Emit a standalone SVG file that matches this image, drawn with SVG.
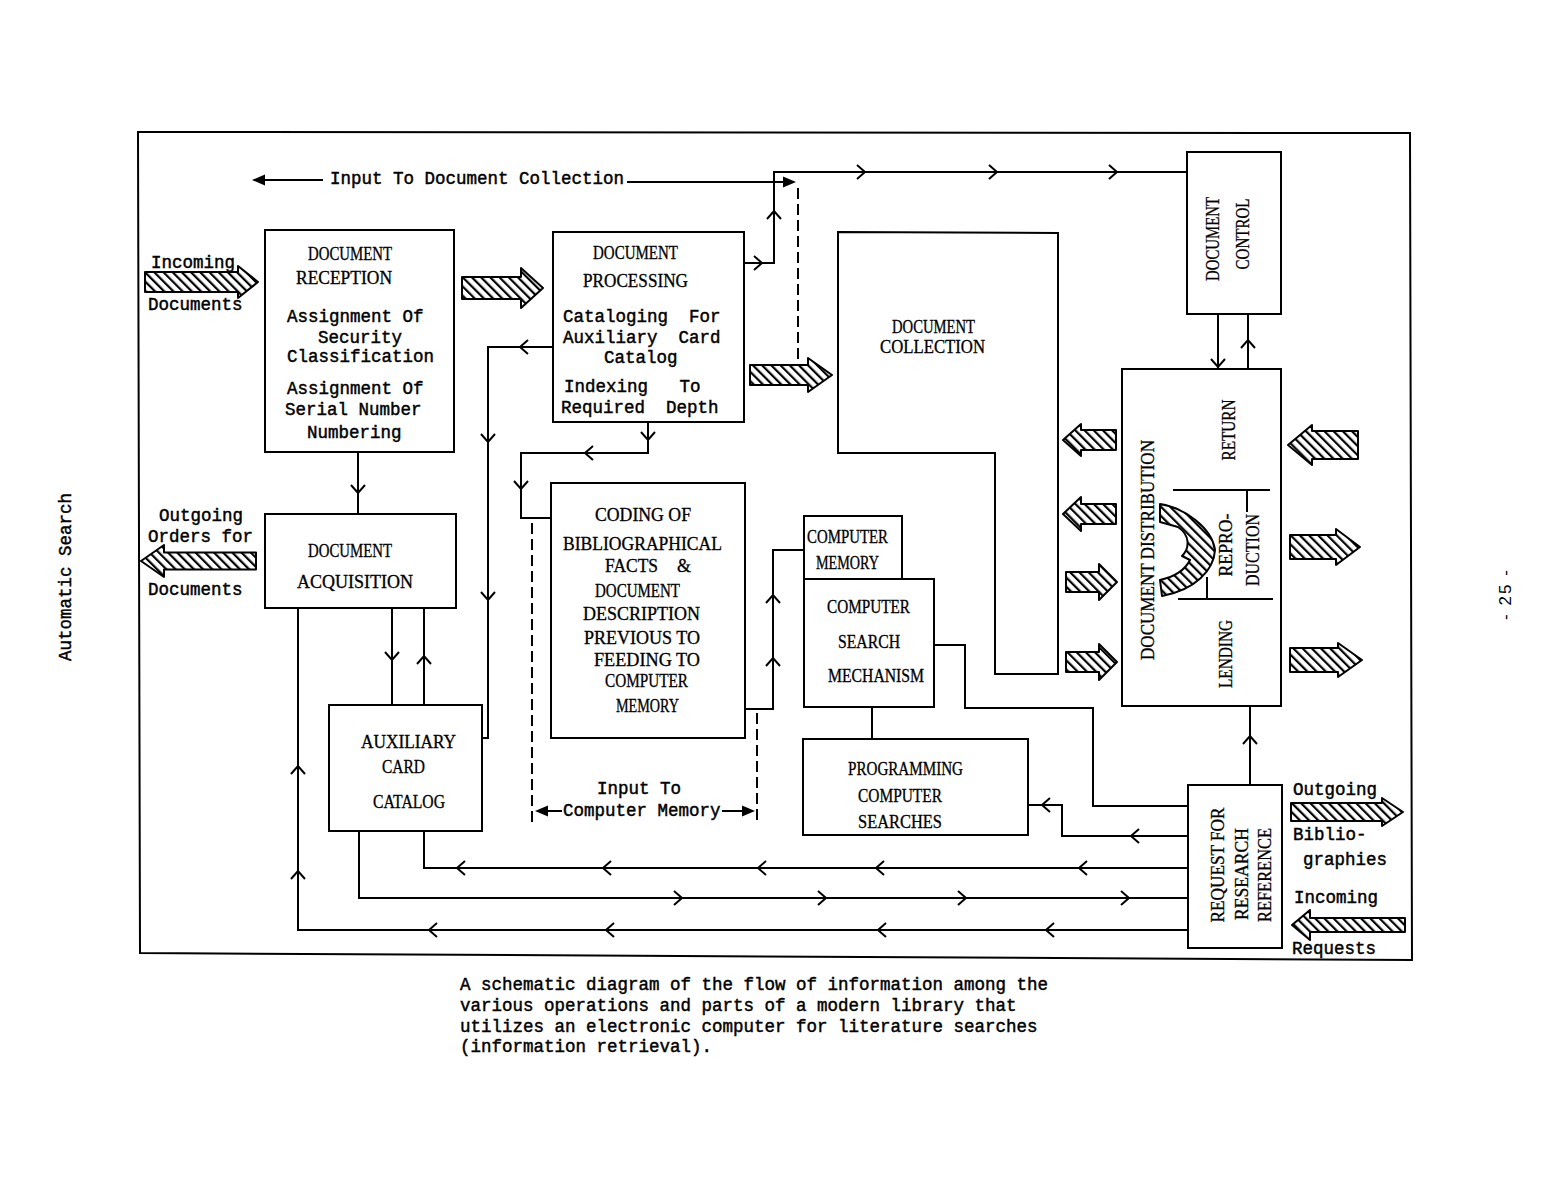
<svg xmlns="http://www.w3.org/2000/svg" xmlns:xlink="http://www.w3.org/1999/xlink" width="1549" height="1188" viewBox="0 0 1549 1188">
<style>
.t{font-family:"Liberation Mono",monospace;font-size:17.5px;fill:#000;stroke:#000;stroke-width:0.45;white-space:pre}
.u{font-family:"Liberation Serif",serif;font-size:18px;fill:#000;stroke:#000;stroke-width:0.3}
.box{fill:#fff;stroke:#000;stroke-width:2}
.ln{fill:none;stroke:#000;stroke-width:2}
.dash{fill:none;stroke:#000;stroke-width:2;stroke-dasharray:11 5}
.h{fill:url(#hatch);stroke:#000;stroke-width:2;stroke-linejoin:round}
</style>
<defs>
<pattern id="hatch" width="6.5" height="6.5" patternUnits="userSpaceOnUse" patternTransform="rotate(-45)">
<rect width="6.5" height="6.5" fill="#fff"/>
<line x1="1" y1="0" x2="1" y2="6.5" stroke="#000" stroke-width="2.4"/>
</pattern>
<path id="chev" d="M-8,-7 L0,0 L-8,7" fill="none" stroke="#000" stroke-width="2"/>
<path id="tri" d="M0,0 L-13,-5.5 L-13,5.5 Z" fill="#000"/>
</defs>
<rect width="1549" height="1188" fill="#fff"/>
<polygon id="frame" points="138,132 1410,133 1412,960 140,953" fill="none" stroke="#000" stroke-width="2"/>

<g id="connectors">
<path class="ln" d="M744,263 H774 V172 H1187"/>
<use href="#chev" transform="translate(865,172)"/>
<use href="#chev" transform="translate(997,172)"/>
<use href="#chev" transform="translate(1117,172)"/>
<use href="#chev" transform="translate(762,263)"/>
<use href="#chev" transform="translate(774,211) rotate(-90)"/>
<path class="ln" d="M323,180 H262"/>
<use href="#tri" transform="translate(252,180) rotate(180)"/>
<path class="ln" d="M627,182 H786"/>
<use href="#tri" transform="translate(796,182)"/>
<path class="dash" d="M798,188 V363"/>
<path class="ln" d="M358,452 V514"/>
<use href="#chev" transform="translate(358,493) rotate(90)"/>
<path class="ln" d="M553,347 H488 V738 H482"/>
<use href="#chev" transform="translate(520,347) rotate(180)"/>
<use href="#chev" transform="translate(488,442) rotate(90)"/>
<use href="#chev" transform="translate(488,600) rotate(90)"/>
<path class="ln" d="M648,422 V453 H521 V518 H551"/>
<use href="#chev" transform="translate(648,440) rotate(90)"/>
<use href="#chev" transform="translate(585,453) rotate(180)"/>
<use href="#chev" transform="translate(521,489) rotate(90)"/>
<path class="dash" d="M532,523 V822"/>
<path class="dash" d="M757,713 V822"/>
<path class="ln" d="M562,811 H542"/>
<use href="#tri" transform="translate(535,811) rotate(180)"/>
<path class="ln" d="M722,811 H745"/>
<use href="#tri" transform="translate(755,811)"/>
<path class="ln" d="M745,709 H773 V550 H804"/>
<use href="#chev" transform="translate(773,595) rotate(-90)"/>
<use href="#chev" transform="translate(773,658) rotate(-90)"/>
<path class="ln" d="M872,707 V739"/>
<path class="ln" d="M934,645 H965 V708 H1093 V806 H1188"/>
<path class="ln" d="M1028,805 H1062 V836 H1188"/>
<use href="#chev" transform="translate(1042,805) rotate(180)"/>
<use href="#chev" transform="translate(1131,836) rotate(180)"/>
<path class="ln" d="M1250,785 V706"/>
<use href="#chev" transform="translate(1250,736) rotate(-90)"/>
<path class="ln" d="M1218,314 V369"/>
<use href="#chev" transform="translate(1218,367) rotate(90)"/>
<path class="ln" d="M1248,369 V314"/>
<use href="#chev" transform="translate(1248,340) rotate(-90)"/>
<path class="ln" d="M392,608 V705"/>
<use href="#chev" transform="translate(392,660) rotate(90)"/>
<path class="ln" d="M424,705 V608"/>
<use href="#chev" transform="translate(424,656) rotate(-90)"/>
<path class="ln" d="M424,831 V868 H1188"/>
<use href="#chev" transform="translate(457,868) rotate(180)"/>
<use href="#chev" transform="translate(603,868) rotate(180)"/>
<use href="#chev" transform="translate(758,868) rotate(180)"/>
<use href="#chev" transform="translate(876,868) rotate(180)"/>
<use href="#chev" transform="translate(1079,868) rotate(180)"/>
<path class="ln" d="M359,831 V898 H1188"/>
<use href="#chev" transform="translate(682,898)"/>
<use href="#chev" transform="translate(826,898)"/>
<use href="#chev" transform="translate(966,898)"/>
<use href="#chev" transform="translate(1129,898)"/>
<path class="ln" d="M298,608 V930 H1188"/>
<use href="#chev" transform="translate(298,766) rotate(-90)"/>
<use href="#chev" transform="translate(298,871) rotate(-90)"/>
<use href="#chev" transform="translate(429,930) rotate(180)"/>
<use href="#chev" transform="translate(606,930) rotate(180)"/>
<use href="#chev" transform="translate(878,930) rotate(180)"/>
<use href="#chev" transform="translate(1046,930) rotate(180)"/>
</g>

<g id="flows">
<path class="h" d="M145,272 H238 V266 L258,282 L238,298 V292 H145 Z"/>
<path class="h" d="M462,277 H521 V268 L543,288 L521,308 V299 H462 Z"/>
<path class="h" d="M750,365 H808 V358 L832,375 L808,392 V385 H750 Z"/>
<path class="h" d="M256,552.5 H164 V545 L141,561 L164,577 V569.5 H256 Z"/>
<path class="h" d="M1291,803 H1382 V798 L1403,812 L1382,826 V821 H1291 Z"/>
<path class="h" d="M1405,918 H1310 V910 L1292,925 L1310,940 V932 H1405 Z"/>
<path class="h" d="M1116,430 H1081 V424 L1063,440 L1081,456 V450 H1116 Z"/>
<path class="h" d="M1116,504 H1081 V497 L1063,514 L1081,531 V524 H1116 Z"/>
<path class="h" d="M1066,572 H1099 V564 L1117,582 L1099,600 V592 H1066 Z"/>
<path class="h" d="M1066,652 H1099 V644 L1117,662 L1099,680 V672 H1066 Z"/>
<path class="h" d="M1358,431 H1312 V425 L1288,445 L1312,465 V459 H1358 Z"/>
<path class="h" d="M1290,535 H1336 V529 L1360,547 L1336,565 V559 H1290 Z"/>
<path class="h" d="M1290,648 H1338 V643 L1362,660 L1338,677 V672 H1290 Z"/>
</g>

<g id="reception">
<rect class="box" x="265" y="230" width="189" height="222"/>
<text class="u" x="308" y="260" textLength="84" lengthAdjust="spacingAndGlyphs">DOCUMENT</text>
<text class="u" x="296" y="284" textLength="96" lengthAdjust="spacingAndGlyphs">RECEPTION</text>
<text class="t" x="287" y="322">Assignment Of</text>
<text class="t" x="318" y="343">Security</text>
<text class="t" x="287" y="362">Classification</text>
<text class="t" x="287" y="394">Assignment Of</text>
<text class="t" x="285" y="415">Serial Number</text>
<text class="t" x="307" y="438">Numbering</text>
</g>

<g id="processing">
<rect class="box" x="553" y="232" width="191" height="190"/>
<text class="u" x="593" y="259" textLength="85" lengthAdjust="spacingAndGlyphs">DOCUMENT</text>
<text class="u" x="583" y="287" textLength="105" lengthAdjust="spacingAndGlyphs">PROCESSING</text>
<text class="t" x="563" y="322">Cataloging  For</text>
<text class="t" x="563" y="343">Auxiliary  Card</text>
<text class="t" x="604" y="363">Catalog</text>
<text class="t" x="564" y="392">Indexing   To</text>
<text class="t" x="561" y="413">Required  Depth</text>
</g>

<g id="collection">
<polygon class="box" points="838,232 1058,233 1058,674 995,674 995,453 838,453"/>
<text class="u" x="892" y="333" textLength="83" lengthAdjust="spacingAndGlyphs">DOCUMENT</text>
<text class="u" x="880" y="353" textLength="105" lengthAdjust="spacingAndGlyphs">COLLECTION</text>
</g>

<g id="control">
<rect class="box" x="1187" y="152" width="94" height="162"/>
<text class="u" text-anchor="middle" transform="translate(1219,239) rotate(-90)" textLength="84" lengthAdjust="spacingAndGlyphs">DOCUMENT</text>
<text class="u" text-anchor="middle" transform="translate(1249,234) rotate(-90)" textLength="71" lengthAdjust="spacingAndGlyphs">CONTROL</text>
</g>

<g id="distribution">
<rect class="box" x="1122" y="369" width="159" height="337"/>
<path class="ln" d="M1173,490 H1270 M1178,599 H1273 M1207,577 V599 M1247,490 V512"/>
<path class="h" d="M1160,504 C1185,508 1212,528 1215,550 C1214,570 1195,590 1162,596 L1160,580 C1178,576 1186,568 1190,560 L1182,556 C1190,548 1190,535 1178,527 L1160,522 Z"/>
<text class="u" text-anchor="middle" transform="translate(1154,550) rotate(-90)" textLength="220" lengthAdjust="spacingAndGlyphs">DOCUMENT DISTRIBUTION</text>
<text class="u" text-anchor="middle" transform="translate(1235,430) rotate(-90)" textLength="61" lengthAdjust="spacingAndGlyphs">RETURN</text>
<text class="u" text-anchor="middle" transform="translate(1232,545) rotate(-90)" textLength="63" lengthAdjust="spacingAndGlyphs">REPRO-</text>
<text class="u" text-anchor="middle" transform="translate(1259,550) rotate(-90)" textLength="72" lengthAdjust="spacingAndGlyphs">DUCTION</text>
<text class="u" text-anchor="middle" transform="translate(1232,654) rotate(-90)" textLength="68" lengthAdjust="spacingAndGlyphs">LENDING</text>
</g>

<g id="acquisition">
<rect class="box" x="265" y="514" width="191" height="94"/>
<text class="u" x="308" y="557" textLength="84" lengthAdjust="spacingAndGlyphs">DOCUMENT</text>
<text class="u" x="297" y="588" textLength="116" lengthAdjust="spacingAndGlyphs">ACQUISITION</text>
</g>

<g id="auxiliary">
<rect class="box" x="329" y="705" width="153" height="126"/>
<text class="u" x="361" y="748" textLength="95" lengthAdjust="spacingAndGlyphs">AUXILIARY</text>
<text class="u" x="382" y="773" textLength="43" lengthAdjust="spacingAndGlyphs">CARD</text>
<text class="u" x="373" y="808" textLength="72" lengthAdjust="spacingAndGlyphs">CATALOG</text>
</g>

<g id="coding">
<rect class="box" x="551" y="483" width="194" height="255"/>
<text class="u" x="595" y="521" textLength="96" lengthAdjust="spacingAndGlyphs">CODING OF</text>
<text class="u" x="563" y="550" textLength="159" lengthAdjust="spacingAndGlyphs">BIBLIOGRAPHICAL</text>
<text class="u" x="605" y="572" textLength="53" lengthAdjust="spacingAndGlyphs">FACTS</text>
<text class="u" x="677" y="572">&amp;</text>
<text class="u" x="595" y="597" textLength="85" lengthAdjust="spacingAndGlyphs">DOCUMENT</text>
<text class="u" x="583" y="620" textLength="117" lengthAdjust="spacingAndGlyphs">DESCRIPTION</text>
<text class="u" x="584" y="644" textLength="116" lengthAdjust="spacingAndGlyphs">PREVIOUS TO</text>
<text class="u" x="594" y="666" textLength="106" lengthAdjust="spacingAndGlyphs">FEEDING TO</text>
<text class="u" x="605" y="687" textLength="83" lengthAdjust="spacingAndGlyphs">COMPUTER</text>
<text class="u" x="616" y="712" textLength="63" lengthAdjust="spacingAndGlyphs">MEMORY</text>
</g>

<g id="memory">
<rect class="box" x="804" y="516" width="98" height="63"/>
<text class="u" x="807" y="543" textLength="81" lengthAdjust="spacingAndGlyphs">COMPUTER</text>
<text class="u" x="816" y="569" textLength="63" lengthAdjust="spacingAndGlyphs">MEMORY</text>
</g>

<g id="search">
<rect class="box" x="804" y="579" width="130" height="128"/>
<text class="u" x="827" y="613" textLength="83" lengthAdjust="spacingAndGlyphs">COMPUTER</text>
<text class="u" x="838" y="648" textLength="62" lengthAdjust="spacingAndGlyphs">SEARCH</text>
<text class="u" x="828" y="682" textLength="96" lengthAdjust="spacingAndGlyphs">MECHANISM</text>
</g>

<g id="programming">
<rect class="box" x="803" y="739" width="225" height="96"/>
<text class="u" x="848" y="775" textLength="115" lengthAdjust="spacingAndGlyphs">PROGRAMMING</text>
<text class="u" x="858" y="802" textLength="84" lengthAdjust="spacingAndGlyphs">COMPUTER</text>
<text class="u" x="858" y="828" textLength="84" lengthAdjust="spacingAndGlyphs">SEARCHES</text>
</g>

<g id="request">
<rect class="box" x="1188" y="785" width="94" height="163"/>
<text class="u" text-anchor="middle" transform="translate(1224,865) rotate(-90)" textLength="115" lengthAdjust="spacingAndGlyphs">REQUEST FOR</text>
<text class="u" text-anchor="middle" transform="translate(1248,874) rotate(-90)" textLength="92" lengthAdjust="spacingAndGlyphs">RESEARCH</text>
<text class="u" text-anchor="middle" transform="translate(1271,875) rotate(-90)" textLength="94" lengthAdjust="spacingAndGlyphs">REFERENCE</text>
</g>

<g id="labels">
<text class="t" x="330" y="184">Input To Document Collection</text>
<text class="t" x="151" y="268">Incoming</text>
<text class="t" x="148" y="310">Documents</text>
<text class="t" x="159" y="521">Outgoing</text>
<text class="t" x="148" y="542">Orders for</text>
<text class="t" x="148" y="595">Documents</text>
<text class="t" x="597" y="794">Input To</text>
<text class="t" x="563" y="816">Computer Memory</text>
<text class="t" x="1293" y="795">Outgoing</text>
<text class="t" x="1293" y="840">Biblio-</text>
<text class="t" x="1303" y="865">graphies</text>
<text class="t" x="1294" y="903">Incoming</text>
<text class="t" x="1292" y="954">Requests</text>
<text class="t" text-anchor="middle" transform="translate(71,577) rotate(-90)">Automatic Search</text>
<text text-anchor="middle" transform="translate(1511,595) rotate(-90)" textLength="50" style="font-family:'Liberation Sans',sans-serif;font-size:17px">- 25 -</text>
<text class="t" x="460" y="990">A schematic diagram of the flow of information among the</text>
<text class="t" x="460" y="1011">various operations and parts of a modern library that</text>
<text class="t" x="460" y="1032">utilizes an electronic computer for literature searches</text>
<text class="t" x="460" y="1052">(information retrieval).</text>
</g>
</svg>
